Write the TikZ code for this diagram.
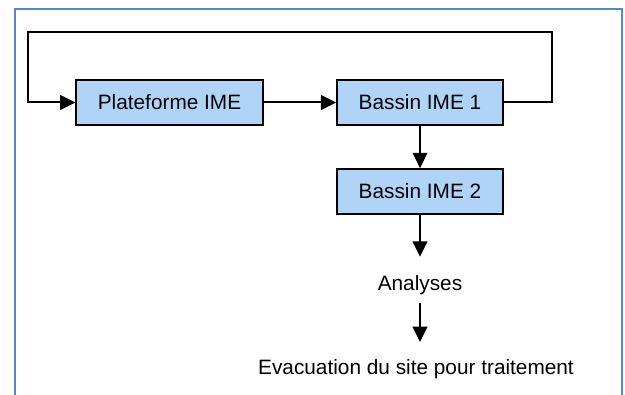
\documentclass[tikz,border=0pt]{standalone}
\usepackage{fontspec}
\setmainfont{Liberation Sans}
\usetikzlibrary{arrows.meta}
\definecolor{boxfill}{RGB}{176,212,248}
\definecolor{framecol}{RGB}{91,136,192}
\tikzset{
  box/.style={draw=black, line width=1.1pt, fill=boxfill, minimum height=34pt, inner sep=0pt, font=\fontsize{15.6pt}{18pt}\selectfont},
  plain/.style={inner sep=0pt, text height=11pt, text depth=3pt, font=\fontsize{15.6pt}{18pt}\selectfont},
  conn/.style={line width=1.5pt, -{Triangle[length=11.5pt,width=11pt]}},
  line/.style={line width=1.5pt}
}
\begin{document}
\begin{tikzpicture}[x=0.75pt,y=-0.75pt]
\useasboundingbox (0,0) rectangle (625,395);
\draw[framecol, line width=1.8pt] (15,395) -- (15,9) -- (622,9) -- (622,395);
\node[box, minimum width=140pt] (pf) at (169.5,102.5) {Plateforme IME};
\node[box, minimum width=124.5pt] (b1) at (420,102.5) {Bassin IME 1};
\node[box, minimum width=124.5pt] (b2) at (420,191.5) {Bassin IME 2};
\node[plain] (an) at (420,285) {Analyses};
\node[plain] (ev) at (416,369) {Evacuation du site pour traitement};
\coordinate (c1) at (552,32);
\coordinate (c2) at (28,32);
\draw[conn] (pf) -- (b1);
\draw[conn] (b1.east) -| (c1) -- (c2) |- (pf.west);
\draw[conn] (b1) -- (b2);
\draw[conn, shorten >=14pt] (b2.south) -- (an.north);
\draw[conn, shorten <=6.5pt, shorten >=13pt] (an.south) -- (an.south |- ev.north);
\end{tikzpicture}
\end{document}
